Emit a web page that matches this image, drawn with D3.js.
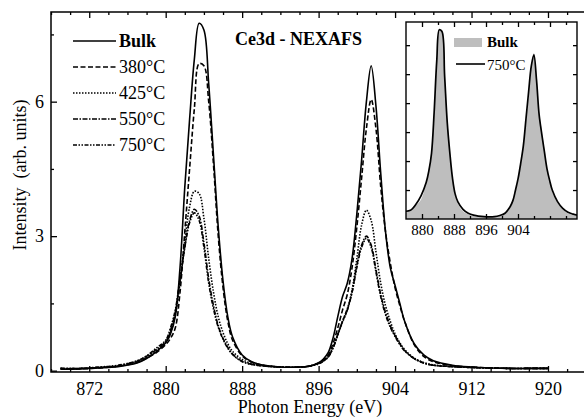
<!DOCTYPE html>
<html>
<head>
<meta charset="utf-8">
<script src="https://cdn.jsdelivr.net/npm/d3@7"></script>
<style>
  body { margin: 0; background: #fff; }
  text { font-family: "Liberation Serif", "Times New Roman", serif; fill: #000; }
</style>
</head>
<body>
<script>
// values
const energy = [869, 871, 873, 875, 877, 878, 879, 880, 880.5, 881, 881.5, 882, 882.5, 883, 883.5, 884, 884.5, 885, 885.5, 886,
    886.5, 887, 888, 889, 890, 892, 894, 895, 896, 896.5, 897, 897.5, 898, 898.5, 899, 899.5, 900, 900.5, 901, 901.5,
    902, 902.5, 903, 903.5, 904, 904.5, 905, 906, 907, 908, 910, 912, 914, 916, 918, 920];

const bulk = [0.03, 0.04, 0.06, 0.09, 0.17, 0.27, 0.42, 0.62, 0.82, 1.2, 2.3, 4.1, 5.6, 6.95, 7.75, 7.6, 6.4, 4.8, 3.2, 2.0,
    1.2, 0.75, 0.35, 0.2, 0.13, 0.08, 0.08, 0.1, 0.18, 0.26, 0.4, 0.72, 1.2, 1.65, 1.95, 2.5, 3.5, 4.7, 6.0, 6.8,
    5.9, 4.4, 3.1, 2.3, 1.9, 1.5, 1.1, 0.6, 0.35, 0.22, 0.12, 0.08, 0.06, 0.05, 0.05, 0.05];
const t380 = [0.04, 0.04, 0.06, 0.1, 0.18, 0.28, 0.4, 0.58, 0.72, 0.95, 1.75, 3.1, 4.5, 5.85, 6.85, 6.8, 6.0, 4.6, 3.0, 1.85,
    1.1, 0.68, 0.33, 0.19, 0.13, 0.08, 0.08, 0.1, 0.17, 0.24, 0.35, 0.6, 0.95, 1.35, 1.7, 2.3, 3.2, 4.3, 5.4, 6.05,
    5.4, 4.1, 3.1, 2.4, 1.85, 1.45, 1.1, 0.58, 0.32, 0.2, 0.11, 0.08, 0.06, 0.05, 0.05, 0.05];
const t425 = [0.05, 0.05, 0.07, 0.1, 0.2, 0.3, 0.45, 0.62, 0.85, 1.25, 1.95, 2.9, 3.65, 4.0, 3.95, 3.4, 2.5, 1.75, 1.2, 0.85,
    0.6, 0.43, 0.25, 0.16, 0.12, 0.08, 0.08, 0.1, 0.16, 0.22, 0.32, 0.52, 0.8, 1.08, 1.35, 1.8, 2.5, 3.25, 3.58, 3.35,
    2.65, 1.95, 1.45, 1.1, 0.82, 0.62, 0.47, 0.28, 0.18, 0.13, 0.09, 0.07, 0.06, 0.05, 0.05, 0.05];
const t550 = [0.05, 0.05, 0.07, 0.11, 0.21, 0.32, 0.47, 0.65, 0.9, 1.3, 2.0, 2.75, 3.35, 3.6, 3.45, 2.85, 2.05, 1.45, 1.0, 0.72,
    0.52, 0.37, 0.21, 0.14, 0.11, 0.08, 0.08, 0.1, 0.16, 0.22, 0.31, 0.5, 0.8, 1.1, 1.35, 1.75, 2.35, 2.8, 3.0, 2.8,
    2.25, 1.7, 1.3, 1.0, 0.78, 0.6, 0.45, 0.27, 0.17, 0.12, 0.09, 0.07, 0.06, 0.05, 0.05, 0.05];
const t750 = [0.05, 0.05, 0.08, 0.12, 0.22, 0.33, 0.5, 0.68, 0.95, 1.35, 2.05, 2.75, 3.3, 3.52, 3.35, 2.75, 1.95, 1.38, 0.97, 0.7,
    0.5, 0.36, 0.2, 0.14, 0.11, 0.08, 0.08, 0.1, 0.15, 0.21, 0.3, 0.5, 0.8, 1.1, 1.38, 1.75, 2.3, 2.75, 2.95, 2.75,
    2.2, 1.65, 1.25, 0.97, 0.76, 0.58, 0.44, 0.27, 0.17, 0.12, 0.09, 0.07, 0.06, 0.05, 0.05, 0.05];

const seriesNames = ["Bulk", "380°C", "425°C", "550°C", "750°C"];
const seriesValues = [bulk, t380, t425, t550, t750];
const dashes = [null, "5,2.5", "1.5,1.5", "5,1.5,1.5,1.5", "4,1.5,1.5,1.5,1.5,1.5"];

const xTicks = [872, 880, 888, 896, 904, 912, 920];
const yTicks = [0, 3, 6];

// inset (normalised spectra, energies as read on the inset's own axis)
const insetEnergy = [876.0, 877.13, 878.44, 879.75, 881.06, 881.72, 882.38, 883.03, 883.69, 884.34, 885.0, 885.66, 886.31, 886.97, 887.63, 888.28, 888.94, 890.25, 891.56, 892.88,
    895.5, 898.13, 899.44, 900.75, 902.06, 902.72, 903.38, 904.03, 904.69, 905.34, 906.0, 906.66, 907.31, 907.97, 908.63, 909.28, 909.94, 910.59, 911.25, 911.91,
    912.56, 913.88, 915.19, 916.5, 917.81, 918.75];
const insetBulk = [0.035, 0.04, 0.07, 0.1, 0.19, 0.26, 0.35, 0.54, 0.8, 0.97, 0.98, 0.75, 0.52, 0.36, 0.2, 0.12, 0.08, 0.04, 0.025, 0.015,
    0.01, 0.01, 0.015, 0.025, 0.06, 0.09, 0.14, 0.2, 0.28, 0.37, 0.5, 0.64, 0.78, 0.86, 0.74, 0.55, 0.46, 0.36, 0.26, 0.2,
    0.14, 0.085, 0.05, 0.03, 0.02, 0.015];
const inset750 = [0.04, 0.045, 0.075, 0.12, 0.19, 0.25, 0.34, 0.55, 0.82, 0.98, 0.97, 0.74, 0.5, 0.34, 0.21, 0.13, 0.09, 0.05, 0.03, 0.02,
    0.012, 0.012, 0.018, 0.03, 0.065, 0.095, 0.15, 0.21, 0.29, 0.38, 0.52, 0.66, 0.79, 0.85, 0.72, 0.54, 0.44, 0.35, 0.26, 0.2,
    0.15, 0.09, 0.055, 0.035, 0.025, 0.02];
const insetXTicks = [880, 888, 896, 904];

const width = 584, height = 418;

const svg = d3.select("body").append("svg")
    .attr("width", width)
    .attr("height", height);

const x = d3.scaleLinear().domain([868, 924.5]).range([51, 591]);
const y = d3.scaleLinear().domain([-0.03, 8]).range([372, 12]);

svg.append("clipPath").attr("id", "plotclip")
    .append("rect").attr("x", 51).attr("y", 12).attr("width", 540).attr("height", 360);

// ticks, inward
function styleAxis(g, size) {
    g.select(".domain").remove();
    g.selectAll("line").attr("stroke", "#000").attr("stroke-width", 1.3);
    g.selectAll("text").attr("font-family", "Liberation Serif").attr("font-size", size).attr("fill", "#000");
}

const minorX = d3.range(868, 925, 2).filter(v => (v - 872) % 8 !== 0);
const minorY = [1.5, 4.5, 7.5];

svg.append("g").attr("transform", "translate(0,372)")
    .call(d3.axisBottom(x).tickValues(xTicks).tickFormat(d3.format("d")).tickSize(-6).tickSizeOuter(0).tickPadding(10))
    .call(g => styleAxis(g, 18));
svg.append("g").attr("transform", "translate(0,372)")
    .call(d3.axisBottom(x).tickValues(minorX).tickFormat("").tickSize(-3).tickSizeOuter(0))
    .call(g => styleAxis(g, 18));
svg.append("g").attr("transform", "translate(0,12)")
    .call(d3.axisTop(x).tickValues(xTicks).tickFormat("").tickSize(-6).tickSizeOuter(0))
    .call(g => styleAxis(g, 18));
svg.append("g").attr("transform", "translate(0,12)")
    .call(d3.axisTop(x).tickValues(minorX).tickFormat("").tickSize(-3).tickSizeOuter(0))
    .call(g => styleAxis(g, 18));
svg.append("g").attr("transform", "translate(51,0)")
    .call(d3.axisLeft(y).tickValues(yTicks).tickSize(-6).tickSizeOuter(0).tickPadding(7))
    .call(g => styleAxis(g, 18));
svg.append("g").attr("transform", "translate(51,0)")
    .call(d3.axisLeft(y).tickValues(minorY).tickFormat("").tickSize(-3).tickSizeOuter(0))
    .call(g => styleAxis(g, 18));

// frame
svg.append("path")
    .attr("d", "M584,12H51V372H584")
    .attr("fill", "none")
    .attr("stroke", "#000")
    .attr("stroke-width", 1.5);

// spectra
const line = d3.line()
    .x((d, i) => x(energy[i]))
    .y(d => y(d))
    .curve(d3.curveCatmullRom.alpha(0.5));

const plot = svg.append("g").attr("clip-path", "url(#plotclip)");
seriesValues.forEach((vals, k) => {
    plot.append("path")
        .attr("d", line(vals))
        .attr("fill", "none")
        .attr("stroke", "#000")
        .attr("stroke-width", 1.6)
        .attr("stroke-dasharray", dashes[k]);
});

// legend
seriesNames.forEach((name, k) => {
    const ly = 41 + k * 26;
    svg.append("line")
        .attr("x1", 73).attr("x2", 116)
        .attr("y1", ly).attr("y2", ly)
        .attr("stroke", "#000")
        .attr("stroke-width", 1.6)
        .attr("stroke-dasharray", dashes[k]);
    svg.append("text")
        .attr("x", 119)
        .attr("y", ly + 6)
        .attr("font-size", 18)
        .attr("font-weight", k === 0 ? "bold" : "normal")
        .text(name);
});

svg.append("text")
    .attr("x", 235)
    .attr("y", 45)
    .attr("font-size", 18)
    .attr("font-weight", "bold")
    .text("Ce3d - NEXAFS");

// axis titles
svg.append("text")
    .attr("x", 310)
    .attr("y", 413)
    .attr("text-anchor", "middle")
    .attr("font-size", 18)
    .text("Photon Energy (eV)");

svg.append("text")
    .attr("transform", "translate(26,175) rotate(-90)")
    .attr("text-anchor", "middle")
    .attr("font-size", 18)
    .style("white-space", "pre")
    .text("Intensity  (arb. units)");

// inset
const ix = d3.scaleLinear().domain([876, 918.75]).range([406, 577]);
const iy = d3.scaleLinear().domain([0, 1.02]).range([219, 22]);

const inset = svg.append("g");
inset.append("rect")
    .attr("x", 406).attr("y", 22)
    .attr("width", 171).attr("height", 197)
    .attr("fill", "#fff");

svg.append("clipPath").attr("id", "insetclip")
    .append("rect").attr("x", 406).attr("y", 22).attr("width", 171).attr("height", 197);

const insetArea = d3.area()
    .x((d, i) => ix(insetEnergy[i]))
    .y0(iy(0))
    .y1(d => iy(d))
    .curve(d3.curveCatmullRom.alpha(0.5));
const insetLine = d3.line()
    .x((d, i) => ix(insetEnergy[i]))
    .y(d => iy(d))
    .curve(d3.curveCatmullRom.alpha(0.5));

const insetPlot = inset.append("g").attr("clip-path", "url(#insetclip)");
insetPlot.append("path")
    .attr("d", insetArea(insetBulk))
    .attr("fill", "#bebebe");
insetPlot.append("path")
    .attr("d", insetLine(inset750))
    .attr("fill", "none")
    .attr("stroke", "#000")
    .attr("stroke-width", 1.7);

const insetMinor = [884, 892, 900, 908, 916];
const insetMajor = [880, 888, 896, 904, 912];
const insetY = [0.15, 0.3, 0.45, 0.6, 0.75, 0.9];

inset.append("g").attr("transform", "translate(0,219)")
    .call(d3.axisBottom(ix).tickValues(insetXTicks).tickFormat(d3.format("d")).tickSize(-5).tickSizeOuter(0).tickPadding(5))
    .call(g => styleAxis(g, 15));
inset.append("g").attr("transform", "translate(0,219)")
    .call(d3.axisBottom(ix).tickValues(insetMinor.concat([912])).tickFormat("").tickSize(-3).tickSizeOuter(0))
    .call(g => styleAxis(g, 15));
inset.append("g").attr("transform", "translate(0,22)")
    .call(d3.axisTop(ix).tickValues(insetMajor).tickFormat("").tickSize(-5).tickSizeOuter(0))
    .call(g => styleAxis(g, 15));
inset.append("g").attr("transform", "translate(0,22)")
    .call(d3.axisTop(ix).tickValues(insetMinor).tickFormat("").tickSize(-3).tickSizeOuter(0))
    .call(g => styleAxis(g, 15));
inset.append("g").attr("transform", "translate(406,0)")
    .call(d3.axisLeft(iy).tickValues(insetY).tickFormat("").tickSize(-4).tickSizeOuter(0))
    .call(g => styleAxis(g, 15));
inset.append("g").attr("transform", "translate(577,0)")
    .call(d3.axisRight(iy).tickValues(insetY).tickFormat("").tickSize(-4).tickSizeOuter(0))
    .call(g => styleAxis(g, 15));

inset.append("rect")
    .attr("x", 406).attr("y", 22)
    .attr("width", 171).attr("height", 197)
    .attr("fill", "none")
    .attr("stroke", "#000")
    .attr("stroke-width", 1.4);

// inset legend
inset.append("rect")
    .attr("x", 454).attr("y", 38)
    .attr("width", 28).attr("height", 9)
    .attr("fill", "#bebebe");
inset.append("text")
    .attr("x", 487).attr("y", 47)
    .attr("font-size", 15)
    .attr("font-weight", "bold")
    .text("Bulk");
inset.append("line")
    .attr("x1", 456).attr("x2", 485)
    .attr("y1", 64).attr("y2", 64)
    .attr("stroke", "#000")
    .attr("stroke-width", 1.6);
inset.append("text")
    .attr("x", 487).attr("y", 70)
    .attr("font-size", 15)
    .text("750°C");
</script>
</body>
</html>
